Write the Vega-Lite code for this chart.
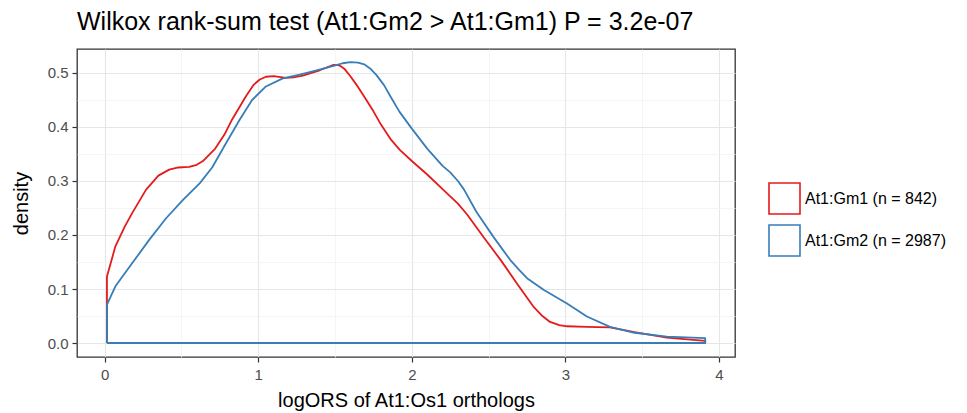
{
  "$schema": "https://vega.github.io/schema/vega-lite/v6.json",
  "width": 658,
  "height": 308,
  "autosize": {"type": "none"},
  "padding": {"left": 77, "top": 49, "right": 232, "bottom": 56},
  "background": "white",
  "title": {
    "text": "Wilkox rank-sum test (At1:Gm2 > At1:Gm1) P = 3.2e-07",
    "anchor": "start",
    "frame": "group",
    "font": "Liberation Sans",
    "fontSize": 25,
    "fontWeight": "normal",
    "color": "#000000",
    "offset": 14
  },
  "config": {
    "font": "Liberation Sans",
    "view": {"stroke": "#333333", "strokeWidth": 1.3}
  },
  "data": {
    "values": [
      {"group": "At1:Gm1 (n = 842)", "o": 0, "x": 0.015, "density": 0},
      {"group": "At1:Gm1 (n = 842)", "o": 1, "x": 0.015, "density": 0.123},
      {"group": "At1:Gm1 (n = 842)", "o": 2, "x": 0.07, "density": 0.179},
      {"group": "At1:Gm1 (n = 842)", "o": 3, "x": 0.13, "density": 0.215},
      {"group": "At1:Gm1 (n = 842)", "o": 4, "x": 0.18, "density": 0.241},
      {"group": "At1:Gm1 (n = 842)", "o": 5, "x": 0.27, "density": 0.284},
      {"group": "At1:Gm1 (n = 842)", "o": 6, "x": 0.35, "density": 0.31},
      {"group": "At1:Gm1 (n = 842)", "o": 7, "x": 0.42, "density": 0.321},
      {"group": "At1:Gm1 (n = 842)", "o": 8, "x": 0.48, "density": 0.325},
      {"group": "At1:Gm1 (n = 842)", "o": 9, "x": 0.55, "density": 0.326},
      {"group": "At1:Gm1 (n = 842)", "o": 10, "x": 0.6, "density": 0.33},
      {"group": "At1:Gm1 (n = 842)", "o": 11, "x": 0.64, "density": 0.337},
      {"group": "At1:Gm1 (n = 842)", "o": 12, "x": 0.72, "density": 0.36},
      {"group": "At1:Gm1 (n = 842)", "o": 13, "x": 0.78, "density": 0.386},
      {"group": "At1:Gm1 (n = 842)", "o": 14, "x": 0.83, "density": 0.414},
      {"group": "At1:Gm1 (n = 842)", "o": 15, "x": 0.92, "density": 0.457},
      {"group": "At1:Gm1 (n = 842)", "o": 16, "x": 0.97, "density": 0.478},
      {"group": "At1:Gm1 (n = 842)", "o": 17, "x": 1.01, "density": 0.488},
      {"group": "At1:Gm1 (n = 842)", "o": 18, "x": 1.05, "density": 0.493},
      {"group": "At1:Gm1 (n = 842)", "o": 19, "x": 1.1, "density": 0.494},
      {"group": "At1:Gm1 (n = 842)", "o": 20, "x": 1.18, "density": 0.491},
      {"group": "At1:Gm1 (n = 842)", "o": 21, "x": 1.23, "density": 0.492},
      {"group": "At1:Gm1 (n = 842)", "o": 22, "x": 1.29, "density": 0.495},
      {"group": "At1:Gm1 (n = 842)", "o": 23, "x": 1.4, "density": 0.505},
      {"group": "At1:Gm1 (n = 842)", "o": 24, "x": 1.49, "density": 0.515},
      {"group": "At1:Gm1 (n = 842)", "o": 25, "x": 1.53, "density": 0.514},
      {"group": "At1:Gm1 (n = 842)", "o": 26, "x": 1.56, "density": 0.508},
      {"group": "At1:Gm1 (n = 842)", "o": 27, "x": 1.6, "density": 0.494},
      {"group": "At1:Gm1 (n = 842)", "o": 28, "x": 1.64, "density": 0.478},
      {"group": "At1:Gm1 (n = 842)", "o": 29, "x": 1.7, "density": 0.452},
      {"group": "At1:Gm1 (n = 842)", "o": 30, "x": 1.75, "density": 0.429},
      {"group": "At1:Gm1 (n = 842)", "o": 31, "x": 1.8, "density": 0.404},
      {"group": "At1:Gm1 (n = 842)", "o": 32, "x": 1.86, "density": 0.378},
      {"group": "At1:Gm1 (n = 842)", "o": 33, "x": 1.92, "density": 0.358},
      {"group": "At1:Gm1 (n = 842)", "o": 34, "x": 2.0, "density": 0.337},
      {"group": "At1:Gm1 (n = 842)", "o": 35, "x": 2.1, "density": 0.312},
      {"group": "At1:Gm1 (n = 842)", "o": 36, "x": 2.2, "density": 0.285},
      {"group": "At1:Gm1 (n = 842)", "o": 37, "x": 2.3, "density": 0.258},
      {"group": "At1:Gm1 (n = 842)", "o": 38, "x": 2.36, "density": 0.238},
      {"group": "At1:Gm1 (n = 842)", "o": 39, "x": 2.47, "density": 0.195},
      {"group": "At1:Gm1 (n = 842)", "o": 40, "x": 2.58, "density": 0.153},
      {"group": "At1:Gm1 (n = 842)", "o": 41, "x": 2.69, "density": 0.108},
      {"group": "At1:Gm1 (n = 842)", "o": 42, "x": 2.79, "density": 0.068},
      {"group": "At1:Gm1 (n = 842)", "o": 43, "x": 2.85, "density": 0.05},
      {"group": "At1:Gm1 (n = 842)", "o": 44, "x": 2.9, "density": 0.039},
      {"group": "At1:Gm1 (n = 842)", "o": 45, "x": 2.96, "density": 0.033},
      {"group": "At1:Gm1 (n = 842)", "o": 46, "x": 3.01, "density": 0.031},
      {"group": "At1:Gm1 (n = 842)", "o": 47, "x": 3.14, "density": 0.03},
      {"group": "At1:Gm1 (n = 842)", "o": 48, "x": 3.29, "density": 0.029},
      {"group": "At1:Gm1 (n = 842)", "o": 49, "x": 3.45, "density": 0.02},
      {"group": "At1:Gm1 (n = 842)", "o": 50, "x": 3.66, "density": 0.01},
      {"group": "At1:Gm1 (n = 842)", "o": 51, "x": 3.91, "density": 0.004},
      {"group": "At1:Gm1 (n = 842)", "o": 52, "x": 3.91, "density": 0},
      {"group": "At1:Gm1 (n = 842)", "o": 53, "x": 0.015, "density": 0},

      {"group": "At1:Gm2 (n = 2987)", "o": 0, "x": 0.015, "density": 0},
      {"group": "At1:Gm2 (n = 2987)", "o": 1, "x": 0.015, "density": 0.071},
      {"group": "At1:Gm2 (n = 2987)", "o": 2, "x": 0.07, "density": 0.105},
      {"group": "At1:Gm2 (n = 2987)", "o": 3, "x": 0.18, "density": 0.148},
      {"group": "At1:Gm2 (n = 2987)", "o": 4, "x": 0.29, "density": 0.191},
      {"group": "At1:Gm2 (n = 2987)", "o": 5, "x": 0.4, "density": 0.231},
      {"group": "At1:Gm2 (n = 2987)", "o": 6, "x": 0.51, "density": 0.265},
      {"group": "At1:Gm2 (n = 2987)", "o": 7, "x": 0.62, "density": 0.296},
      {"group": "At1:Gm2 (n = 2987)", "o": 8, "x": 0.7, "density": 0.325},
      {"group": "At1:Gm2 (n = 2987)", "o": 9, "x": 0.79, "density": 0.37},
      {"group": "At1:Gm2 (n = 2987)", "o": 10, "x": 0.88, "density": 0.414},
      {"group": "At1:Gm2 (n = 2987)", "o": 11, "x": 0.96, "density": 0.45},
      {"group": "At1:Gm2 (n = 2987)", "o": 12, "x": 1.05, "density": 0.475},
      {"group": "At1:Gm2 (n = 2987)", "o": 13, "x": 1.16, "density": 0.49},
      {"group": "At1:Gm2 (n = 2987)", "o": 14, "x": 1.27, "density": 0.497},
      {"group": "At1:Gm2 (n = 2987)", "o": 15, "x": 1.38, "density": 0.505},
      {"group": "At1:Gm2 (n = 2987)", "o": 16, "x": 1.49, "density": 0.513},
      {"group": "At1:Gm2 (n = 2987)", "o": 17, "x": 1.55, "density": 0.518},
      {"group": "At1:Gm2 (n = 2987)", "o": 18, "x": 1.6, "density": 0.52},
      {"group": "At1:Gm2 (n = 2987)", "o": 19, "x": 1.65, "density": 0.519},
      {"group": "At1:Gm2 (n = 2987)", "o": 20, "x": 1.69, "density": 0.516},
      {"group": "At1:Gm2 (n = 2987)", "o": 21, "x": 1.73, "density": 0.508},
      {"group": "At1:Gm2 (n = 2987)", "o": 22, "x": 1.77, "density": 0.496},
      {"group": "At1:Gm2 (n = 2987)", "o": 23, "x": 1.82, "density": 0.477},
      {"group": "At1:Gm2 (n = 2987)", "o": 24, "x": 1.86, "density": 0.457},
      {"group": "At1:Gm2 (n = 2987)", "o": 25, "x": 1.92, "density": 0.428},
      {"group": "At1:Gm2 (n = 2987)", "o": 26, "x": 2.0, "density": 0.397},
      {"group": "At1:Gm2 (n = 2987)", "o": 27, "x": 2.1, "density": 0.36},
      {"group": "At1:Gm2 (n = 2987)", "o": 28, "x": 2.2, "density": 0.328},
      {"group": "At1:Gm2 (n = 2987)", "o": 29, "x": 2.25, "density": 0.316},
      {"group": "At1:Gm2 (n = 2987)", "o": 30, "x": 2.3, "density": 0.3},
      {"group": "At1:Gm2 (n = 2987)", "o": 31, "x": 2.34, "density": 0.284},
      {"group": "At1:Gm2 (n = 2987)", "o": 32, "x": 2.42, "density": 0.243},
      {"group": "At1:Gm2 (n = 2987)", "o": 33, "x": 2.53, "density": 0.197},
      {"group": "At1:Gm2 (n = 2987)", "o": 34, "x": 2.64, "density": 0.154},
      {"group": "At1:Gm2 (n = 2987)", "o": 35, "x": 2.7, "density": 0.135},
      {"group": "At1:Gm2 (n = 2987)", "o": 36, "x": 2.75, "density": 0.12},
      {"group": "At1:Gm2 (n = 2987)", "o": 37, "x": 2.86, "density": 0.098},
      {"group": "At1:Gm2 (n = 2987)", "o": 38, "x": 3.01, "density": 0.073},
      {"group": "At1:Gm2 (n = 2987)", "o": 39, "x": 3.14, "density": 0.049},
      {"group": "At1:Gm2 (n = 2987)", "o": 40, "x": 3.29, "density": 0.03},
      {"group": "At1:Gm2 (n = 2987)", "o": 41, "x": 3.45, "density": 0.019},
      {"group": "At1:Gm2 (n = 2987)", "o": 42, "x": 3.66, "density": 0.012},
      {"group": "At1:Gm2 (n = 2987)", "o": 43, "x": 3.91, "density": 0.009},
      {"group": "At1:Gm2 (n = 2987)", "o": 44, "x": 3.91, "density": 0},
      {"group": "At1:Gm2 (n = 2987)", "o": 45, "x": 0.015, "density": 0}
    ]
  },
  "mark": {"type": "line", "strokeWidth": 1.8, "interpolate": "linear", "strokeJoin": "round"},
  "encoding": {
    "x": {
      "field": "x",
      "type": "quantitative",
      "scale": {"domain": [-0.18, 4.104], "nice": false, "zero": false},
      "axis": {
        "title": "logORS of At1:Os1 orthologs",
        "values": [0, 0.5, 1, 1.5, 2, 2.5, 3, 3.5, 4],
        "labelExpr": "datum.value % 1 === 0 ? format(datum.value, 'd') : ''",
        "domain": false,
        "grid": true,
        "gridColor": {"condition": {"test": "datum.value % 1 !== 0", "value": "#F2F2F2"}, "value": "#E6E6E6"},
        "gridWidth": {"condition": {"test": "datum.value % 1 !== 0", "value": 0.8}, "value": 1.1},
        "tickColor": "#333333",
        "tickOpacity": {"condition": {"test": "datum.value % 1 !== 0", "value": 0}, "value": 1},
        "tickSize": 5,
        "tickWidth": 1.2,
        "labelFont": "Liberation Sans",
        "labelFontSize": 15,
        "labelColor": "#4D4D4D",
        "labelPadding": 5,
        "titleFont": "Liberation Sans",
        "titleFontSize": 20,
        "titleFontWeight": "normal",
        "titleColor": "#000000",
        "titlePadding": 8
      }
    },
    "y": {
      "field": "density",
      "type": "quantitative",
      "scale": {"domain": [-0.0259, 0.5444], "nice": false, "zero": false},
      "axis": {
        "title": "density",
        "values": [0, 0.05, 0.1, 0.15, 0.2, 0.25, 0.3, 0.35, 0.4, 0.45, 0.5],
        "labelExpr": "round(datum.value * 100) % 10 === 0 ? format(datum.value, '.1f') : ''",
        "domain": false,
        "grid": true,
        "gridColor": {"condition": {"test": "round(datum.value * 100) % 10 !== 0", "value": "#F2F2F2"}, "value": "#E6E6E6"},
        "gridWidth": {"condition": {"test": "round(datum.value * 100) % 10 !== 0", "value": 0.8}, "value": 1.1},
        "tickColor": "#333333",
        "tickOpacity": {"condition": {"test": "round(datum.value * 100) % 10 !== 0", "value": 0}, "value": 1},
        "tickSize": 5,
        "tickWidth": 1.2,
        "labelFont": "Liberation Sans",
        "labelFontSize": 15,
        "labelColor": "#4D4D4D",
        "labelPadding": 4,
        "titleFont": "Liberation Sans",
        "titleFontSize": 20,
        "titleFontWeight": "normal",
        "titleColor": "#000000",
        "titlePadding": 16
      }
    },
    "order": {"field": "o", "type": "quantitative"},
    "color": {
      "field": "group",
      "type": "nominal",
      "scale": {"domain": ["At1:Gm1 (n = 842)", "At1:Gm2 (n = 2987)"], "range": ["#E41A1C", "#377EB8"]},
      "legend": {
        "title": null,
        "orient": "none",
        "legendX": 691,
        "legendY": 133,
        "padding": 0,
        "symbolType": "square",
        "symbolSize": 961,
        "symbolStrokeWidth": 1.6,
        "symbolFillColor": "white",
        "labelFont": "Liberation Sans",
        "labelFontSize": 16,
        "labelColor": "#000000",
        "labelOffset": 4,
        "rowPadding": 3
      }
    }
  }
}
